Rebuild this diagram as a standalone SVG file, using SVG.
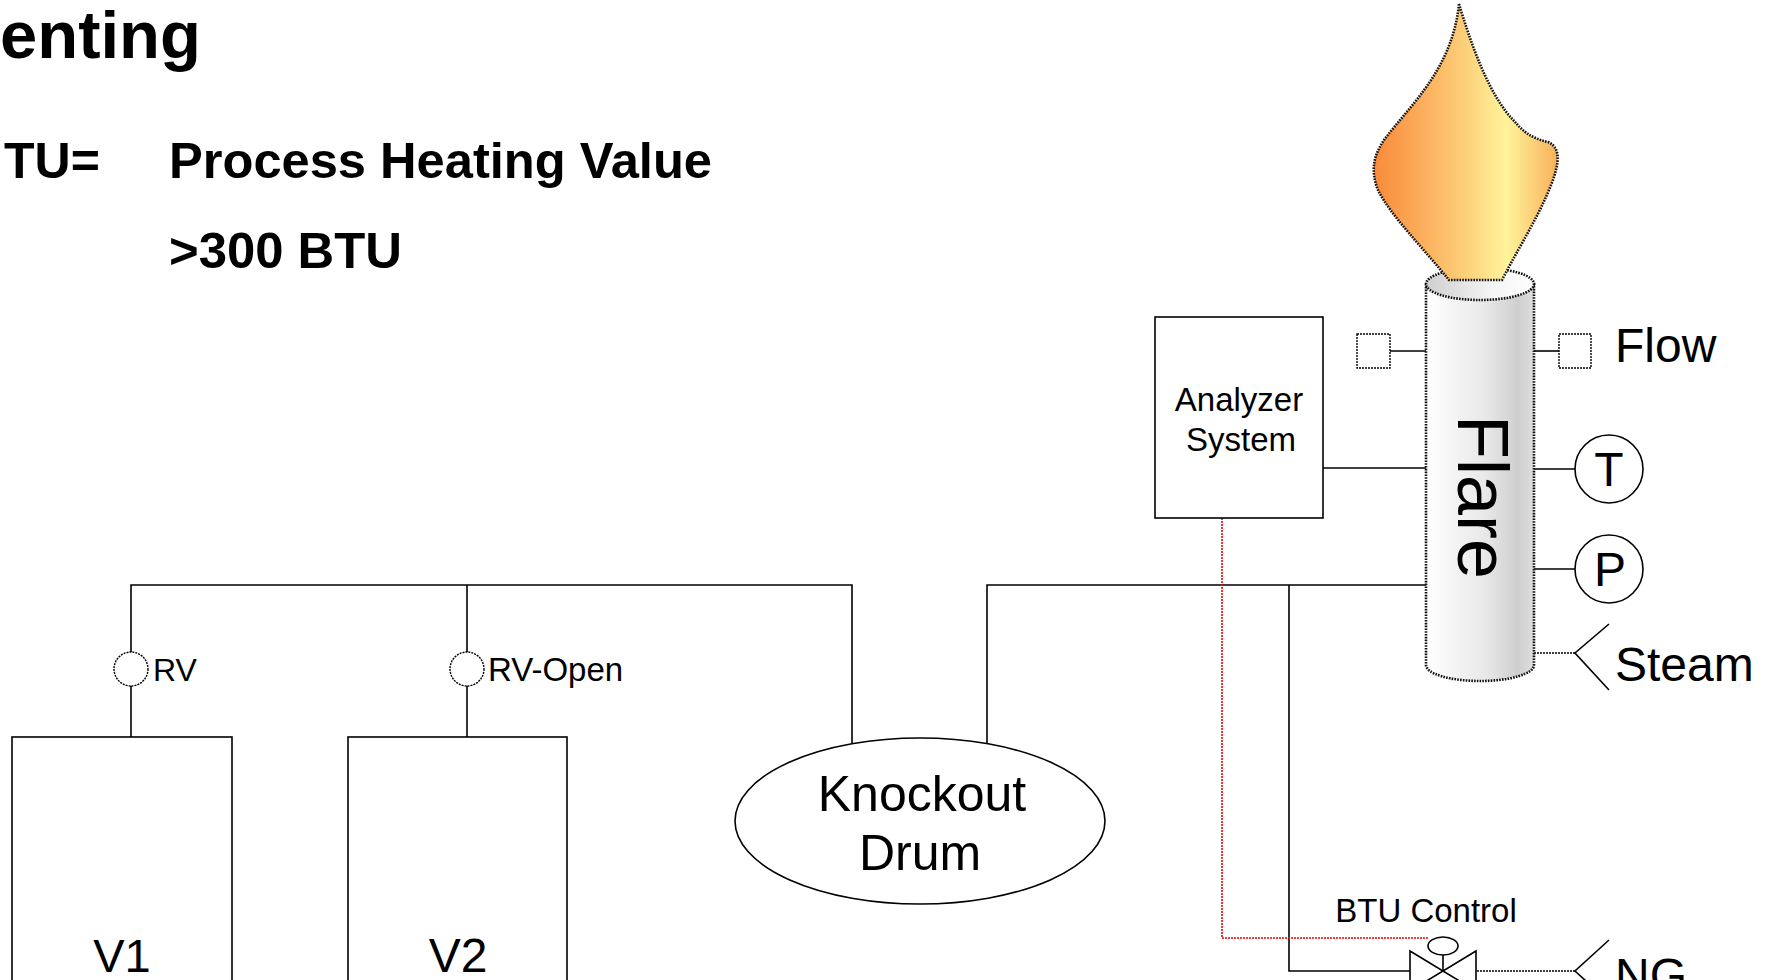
<svg xmlns="http://www.w3.org/2000/svg" width="1768" height="980" viewBox="0 0 1768 980">
<defs>
<style>
text{font-family:"Liberation Sans",Arial,sans-serif;fill:#000}
.b{font-weight:bold}
.ln{fill:none;stroke:#000;stroke-width:1.6}
.dot{fill:#fff;stroke:#000;stroke-width:1.4;stroke-dasharray:2 1}
.box{fill:#fff;stroke:#000;stroke-width:1.6}
.red{fill:none;stroke:#e00;stroke-width:1.6;stroke-dasharray:2 1}
.edge{stroke:#111;stroke-width:2.6;stroke-dasharray:1.6 1.2}
</style>
<linearGradient id="fl" x1="0" y1="0" x2="1" y2="0">
<stop offset="0" stop-color="#f98a3a"/>
<stop offset="0.45" stop-color="#fcc873"/>
<stop offset="0.72" stop-color="#fff49c"/>
<stop offset="1" stop-color="#f9b05a"/>
</linearGradient>
<linearGradient id="cyl" x1="0" y1="0" x2="1" y2="0">
<stop offset="0" stop-color="#ffffff"/>
<stop offset="0.55" stop-color="#e8e8e8"/>
<stop offset="0.85" stop-color="#cfcfcf"/>
<stop offset="1" stop-color="#dedede"/>
</linearGradient>
<linearGradient id="cap" x1="0" y1="0" x2="1" y2="0">
<stop offset="0" stop-color="#cfcfcf"/>
<stop offset="0.6" stop-color="#f4f4f4"/>
<stop offset="1" stop-color="#ffffff"/>
</linearGradient>
</defs>
<rect width="1768" height="980" fill="#fff"/>

<g id="title">
<text class="b" x="0" y="58" font-size="67">enting</text>
<text class="b" x="4" y="178" font-size="50">TU=</text>
<text class="b" x="169" y="178" font-size="50" textLength="543" lengthAdjust="spacingAndGlyphs">Process Heating Value</text>
<text class="b" x="169" y="268" font-size="50" textLength="233" lengthAdjust="spacingAndGlyphs">&gt;300 BTU</text>
</g>

<g id="connectors">
<polyline class="ln" points="131,737 131,585 852,585 852,743"/>
<line class="ln" x1="467" y1="585" x2="467" y2="737"/>
<polyline class="ln" points="987,743 987,585 1426,585"/>
<polyline class="ln" points="1289,585 1289,971 1410,971"/>
<line class="ln" x1="1323" y1="468" x2="1426" y2="468"/>
<line class="ln" x1="1390" y1="351" x2="1426" y2="351"/>
<line class="ln" x1="1534" y1="351" x2="1559" y2="351"/>
<line class="ln" x1="1534" y1="469" x2="1575" y2="469"/>
<line class="ln" x1="1534" y1="569" x2="1575" y2="569"/>
<line class="ln" x1="1534" y1="653" x2="1575" y2="653" stroke-dasharray="2 1"/>
<line class="ln" x1="1477" y1="971" x2="1575" y2="971" stroke-dasharray="2 1"/>
<polyline class="red" points="1222,518 1222,938 1428,938"/>
</g>

<g id="V1">
<rect class="box" x="12" y="737" width="220" height="260"/>
<text x="122" y="972" font-size="47" text-anchor="middle">V1</text>
</g>
<g id="V2">
<rect class="box" x="348" y="737" width="219" height="260"/>
<text x="458" y="972" font-size="48" text-anchor="middle">V2</text>
</g>
<g id="RV">
<circle class="dot" cx="131" cy="669" r="17"/>
<text x="153" y="681" font-size="32">RV</text>
</g>
<g id="RV-Open">
<circle class="dot" cx="467" cy="669" r="17"/>
<text x="488" y="681" font-size="33">RV-Open</text>
</g>
<g id="knockout">
<ellipse class="box" cx="920" cy="821" rx="185" ry="83"/>
<text x="922" y="811" font-size="50" text-anchor="middle">Knockout</text>
<text x="920" y="870" font-size="50" text-anchor="middle">Drum</text>
</g>
<g id="analyzer">
<rect class="box" x="1155" y="317" width="168" height="201"/>
<text x="1239" y="411" font-size="33" text-anchor="middle">Analyzer</text>
<text x="1241" y="451" font-size="33" text-anchor="middle">System</text>
</g>

<g id="flare">
<path d="M1426,284 L1426,665 A54,16 0 0 0 1534,665 L1534,284 Z" fill="url(#cyl)" class="edge"/>
<ellipse cx="1480" cy="284" rx="54" ry="16" fill="url(#cap)" class="edge"/>
<path d="M1459,4 C1470,40 1488,95 1515,122 C1522,130 1530,138 1548,142 C1562,148 1558,165 1553,180 C1540,215 1520,245 1502,280 L1449,280 C1425,250 1390,215 1378,190 C1370,170 1374,155 1384,140 C1410,105 1452,70 1459,4 Z" fill="url(#fl)" class="edge"/>
<text x="0" y="0" font-size="72" text-anchor="middle" transform="translate(1458,497) rotate(90)">Flare</text>
</g>

<g id="sensor-left">
<rect class="dot" x="1357" y="334" width="33" height="34"/>
</g>
<g id="flow">
<rect class="dot" x="1559" y="334" width="32" height="34"/>
<text x="1615" y="362" font-size="48">Flow</text>
</g>
<g id="temp">
<circle class="box" cx="1609" cy="469" r="34"/>
<text x="1609" y="486" font-size="48" text-anchor="middle">T</text>
</g>
<g id="press">
<circle class="box" cx="1609" cy="569" r="34"/>
<text x="1610" y="586" font-size="48" text-anchor="middle">P</text>
</g>
<g id="steam">
<polyline class="ln" points="1609,624 1575,653 1609,690"/>
<text x="1615" y="681" font-size="48">Steam</text>
</g>

<g id="btu-control">
<text x="1426" y="922" font-size="33" text-anchor="middle">BTU Control</text>
<ellipse class="box" cx="1443" cy="946" rx="15" ry="9"/>
<line class="ln" x1="1443" y1="955" x2="1443" y2="971"/>
<path class="box" d="M1410,951 L1476,991 L1476,951 L1410,991 Z"/>
</g>
<g id="ng">
<polyline class="ln" points="1609,940 1575,971 1609,1002"/>
<text x="1615" y="992" font-size="48">NG</text>
</g>
</svg>
